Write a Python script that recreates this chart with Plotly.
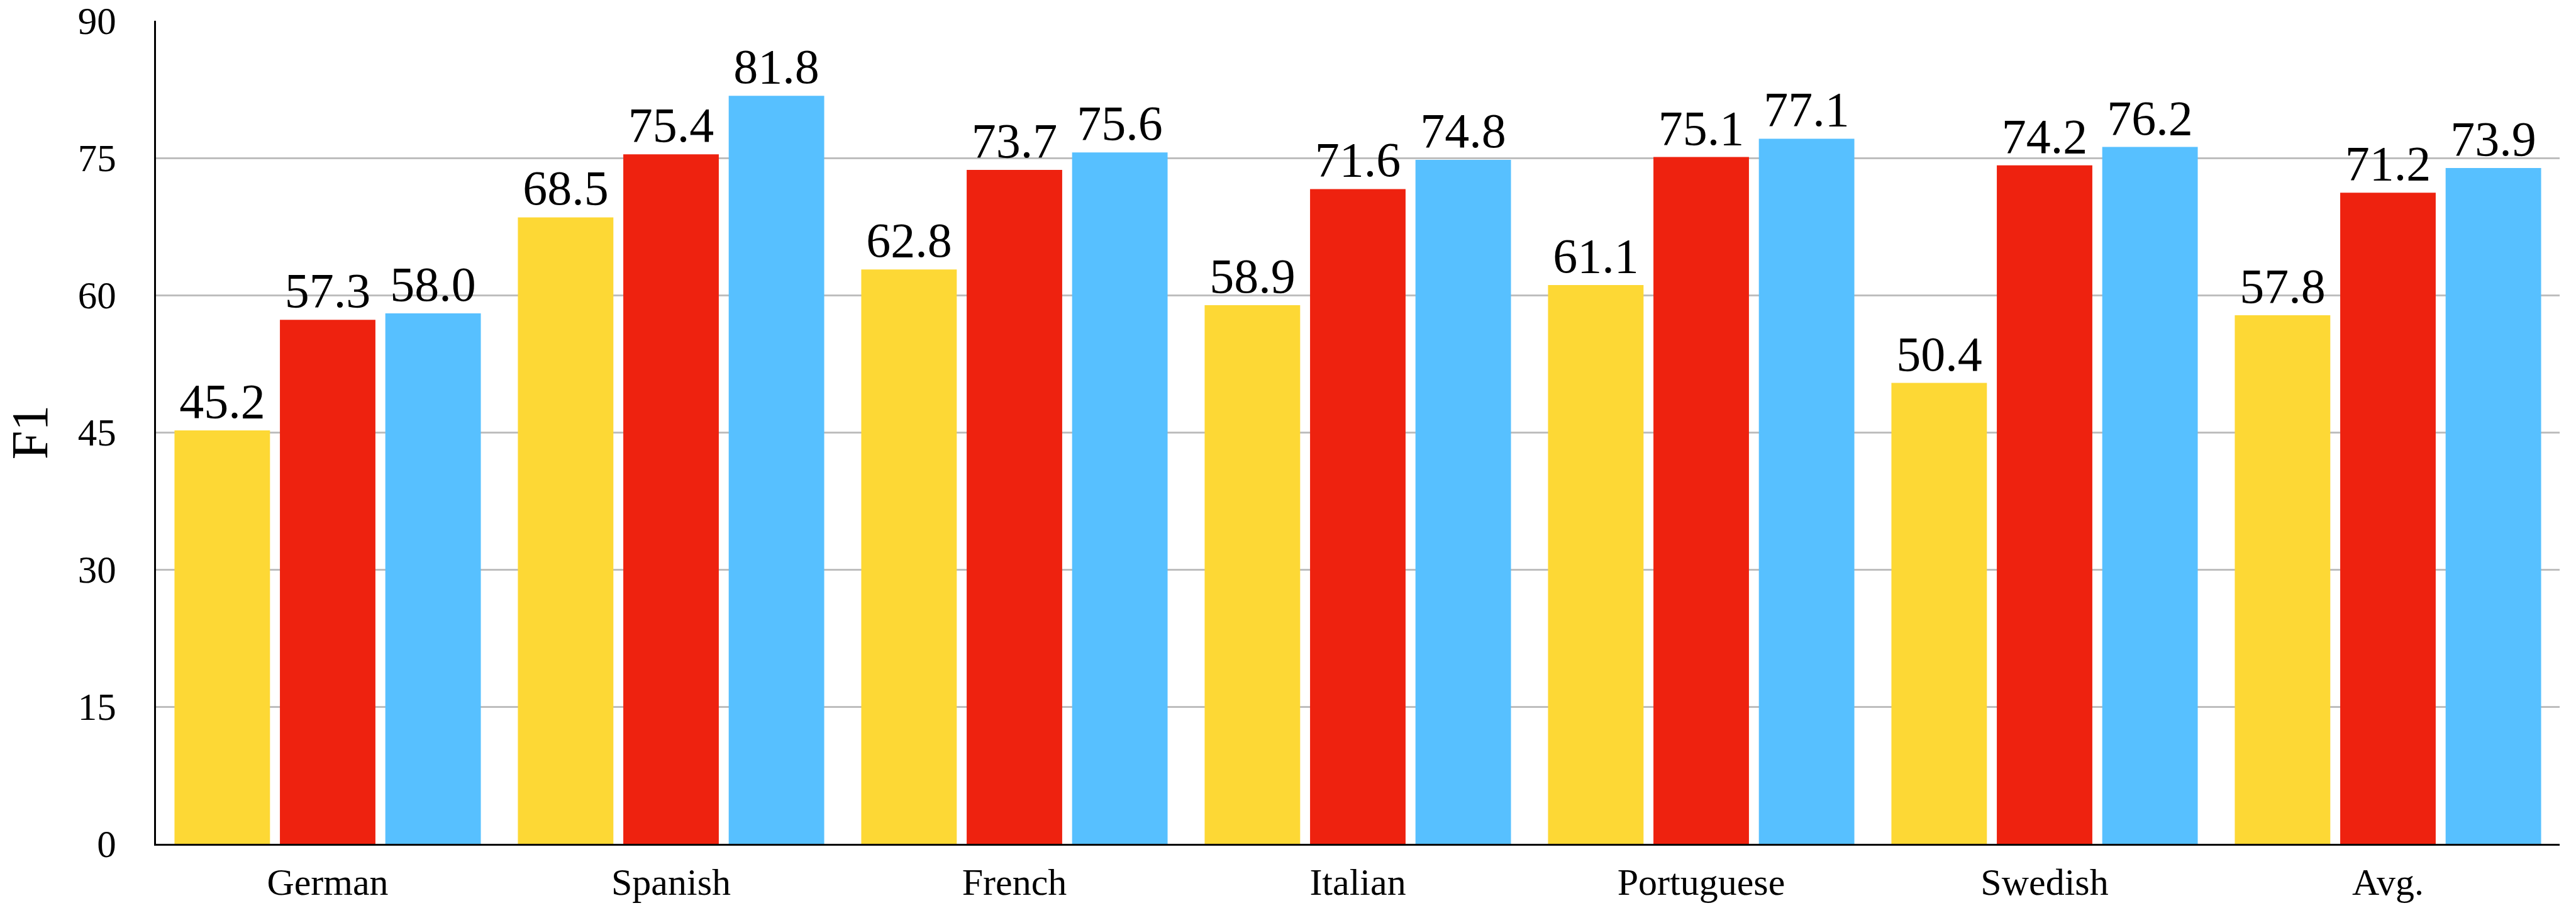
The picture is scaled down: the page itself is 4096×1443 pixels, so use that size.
import plotly.graph_objects as go

# Per-language F1 scores for three systems
languages = ["German", "Spanish", "French", "Italian", "Portuguese", "Swedish", "Avg."]
series_1 = [45.2, 68.5, 62.8, 58.9, 61.1, 50.4, 57.8]
series_2 = [57.3, 75.4, 73.7, 71.6, 75.1, 74.2, 71.2]
series_3 = [58.0, 81.8, 75.6, 74.8, 77.1, 76.2, 73.9]
y_ticks = [0, 15, 30, 45, 60, 75, 90]

series = [
    ("Series 1", series_1, "#FDD835"),
    ("Series 2", series_2, "#EE220F"),
    ("Series 3", series_3, "#57C0FF"),
]

FONT = "Liberation Serif, Times New Roman, serif"

fig = go.Figure()
for name, vals, color in series:
    fig.add_trace(go.Bar(
        x=languages,
        y=vals,
        name=name,
        marker=dict(color=color, line=dict(width=0)),
        text=vals,
        texttemplate="%{y:.1f}",
        textposition="outside",
        textfont=dict(family=FONT, size=78, color="black"),
        cliponaxis=False,
        showlegend=False,
    ))

fig.update_layout(
    width=4096,
    height=1443,
    margin=dict(l=248, r=26, t=33, b=102, autoexpand=False),
    paper_bgcolor="white",
    plot_bgcolor="white",
    barmode="group",
    bargap=0.079,
    bargroupgap=0.094,
    font=dict(family=FONT, color="black"),
)

fig.update_xaxes(
    showline=True,
    linecolor="black",
    linewidth=3,
    showgrid=False,
    ticks="",
    tickfont=dict(family=FONT, size=60),
    ticklabelstandoff=6,
)

fig.update_yaxes(
    range=[0, 90],
    tickvals=y_ticks,
    showline=True,
    linecolor="black",
    linewidth=3,
    showgrid=True,
    gridcolor="#BEBEBE",
    gridwidth=2.5,
    zeroline=False,
    ticks="",
    tickfont=dict(family=FONT, size=61),
    ticklabelstandoff=48,
    title=dict(text="F1", font=dict(family=FONT, size=82), standoff=22),
)

fig.write_html("out.html")
